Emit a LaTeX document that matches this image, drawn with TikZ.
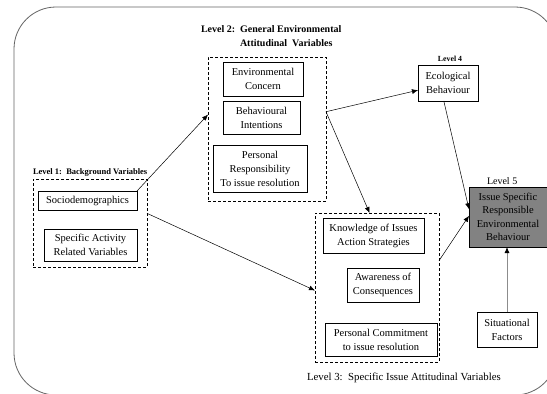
\documentclass[tikz,border=0pt]{standalone}
\usepackage{fontspec}
\setmainfont{Liberation Serif}
\usetikzlibrary{arrows.meta,calc}
\definecolor{framegray}{RGB}{100,100,100}
\definecolor{fillgray}{RGB}{130,130,130}
\definecolor{linegray}{RGB}{140,140,140}
\begin{document}
\begin{tikzpicture}[x=1pt,y=-1pt,
  every node/.style={inner sep=0pt,outer sep=0pt},
  box/.style={draw,line width=0.6pt,align=center,anchor=north west,
    font=\fontsize{10.5}{14}\selectfont},
  group/.style={draw,line width=0.9pt,dash pattern=on 3pt off 2pt,anchor=north west},
  title/.style={anchor=west,font=\bfseries\fontsize{8.5}{12}\selectfont},
  link/.style={line width=0.5pt,-{Latex[length=6pt,width=5pt]}},
  glink/.style={line width=0.8pt,draw=linegray,-{Latex[length=6pt,width=5pt,color=black]}}]
\useasboundingbox (0,0) rectangle (547,394);
\clip (0,0) rectangle (547,394);
\fill[white] (0,0) rectangle (547,394);
% outer frame (continues past the page edge)
\draw[framegray,line width=0.8pt,rounded corners=42pt] (14,7) rectangle (557,395);

% Level 1
\node[title] (t1) at (33,172) {Level 1:~~Background Variables};
\node[group,minimum width=114pt,minimum height=88pt] (l1) at (33,179) {};
\node[box,minimum width=99pt,minimum height=19pt] (socio) at (38,191) {Sociodemographics};
\node[box,minimum width=93pt,minimum height=32pt] (spec) at (44,229) {Specific Activity\\ Related Variables};

% Level 2
\node[anchor=north west,align=left,font=\bfseries\fontsize{10}{14}\selectfont] (t2) at (201,26)
  {Level 2:~~General Environmental\\\hspace*{3.9em}Attitudinal~~Variables};
\node[group,minimum width=118pt,minimum height=144pt] (l2) at (208,57) {};
\node[box,minimum width=80pt,minimum height=34pt] (envc) at (223,62) {Environmental\\ Concern};
\node[box,minimum width=77pt,minimum height=33pt] (behi) at (223,101) {Behavioural\\Intentions};
\node[box,minimum width=94pt,minimum height=47pt] (resp) at (213,145) {Personal\\Responsibility\\To issue resolution};

% Level 3
\node[group,minimum width=124pt,minimum height=149pt] (l3) at (315,213) {};
\node[box,minimum width=101pt,minimum height=35pt] (know) at (323,218) {Knowledge of Issues\\Action Strategies};
\node[box,minimum width=72pt,minimum height=34pt] (aware) at (347,268) {Awareness of\\Consequences};
\node[box,minimum width=112pt,minimum height=33pt] (commit) at (325,323) {Personal Commitment\\to issue resolution};
\node[anchor=west,font=\fontsize{10.8}{12}\selectfont] (t3) at (307,378) {Level 3:~~Specific Issue Attitudinal Variables};

% Level 4
\node[font=\bfseries\fontsize{7.8}{10}\selectfont] (t4) at (450,59) {Level 4};
\node[box,minimum width=60pt,minimum height=36pt] (eco) at (418,65) {Ecological\\Behaviour};

% Level 5
\node[anchor=west,font=\fontsize{10}{12}\selectfont] (t5) at (487,181) {Level 5};
\node[box,fill=fillgray,minimum width=78pt,minimum height=60pt,font=\fontsize{10.5}{13.5}\selectfont] (l5) at (469,187)
  {Issue Specific\\Responsible\\Environmental\\Behaviour};

% Situational factors
\node[box,minimum width=60pt,minimum height=35pt] (sit) at (477,312) {Situational\\Factors};

% connectors
\draw[link] (socio.north east) -- ($(l2.north west)!0.4!(l2.south west)$);
\draw[link] ($(l1.north east)!0.39!(l1.south east)$) -- ($(l3.north west)!0.52!(l3.south west)$);
\coordinate (l2out) at ($(l2.north east)!0.38!(l2.south east)$);
\draw[link] (l2out) -- ($(eco.north west)!0.7!(eco.south west)$);
\draw[link] (l2out) -- ($(l3.north west)!0.44!(l3.north east)$);
\draw[link] ($(eco.south west)!0.43!(eco.south east)$) -- ($(l5.north west)!0.37!(l5.south west)$);
\draw[link] ($(l3.north east)!0.32!(l3.south east)$) -- ($(l5.north west)!0.48!(l5.south west)$);
\draw[glink] (sit.north) -- (sit.north |- l5.south);
\end{tikzpicture}
\end{document}
